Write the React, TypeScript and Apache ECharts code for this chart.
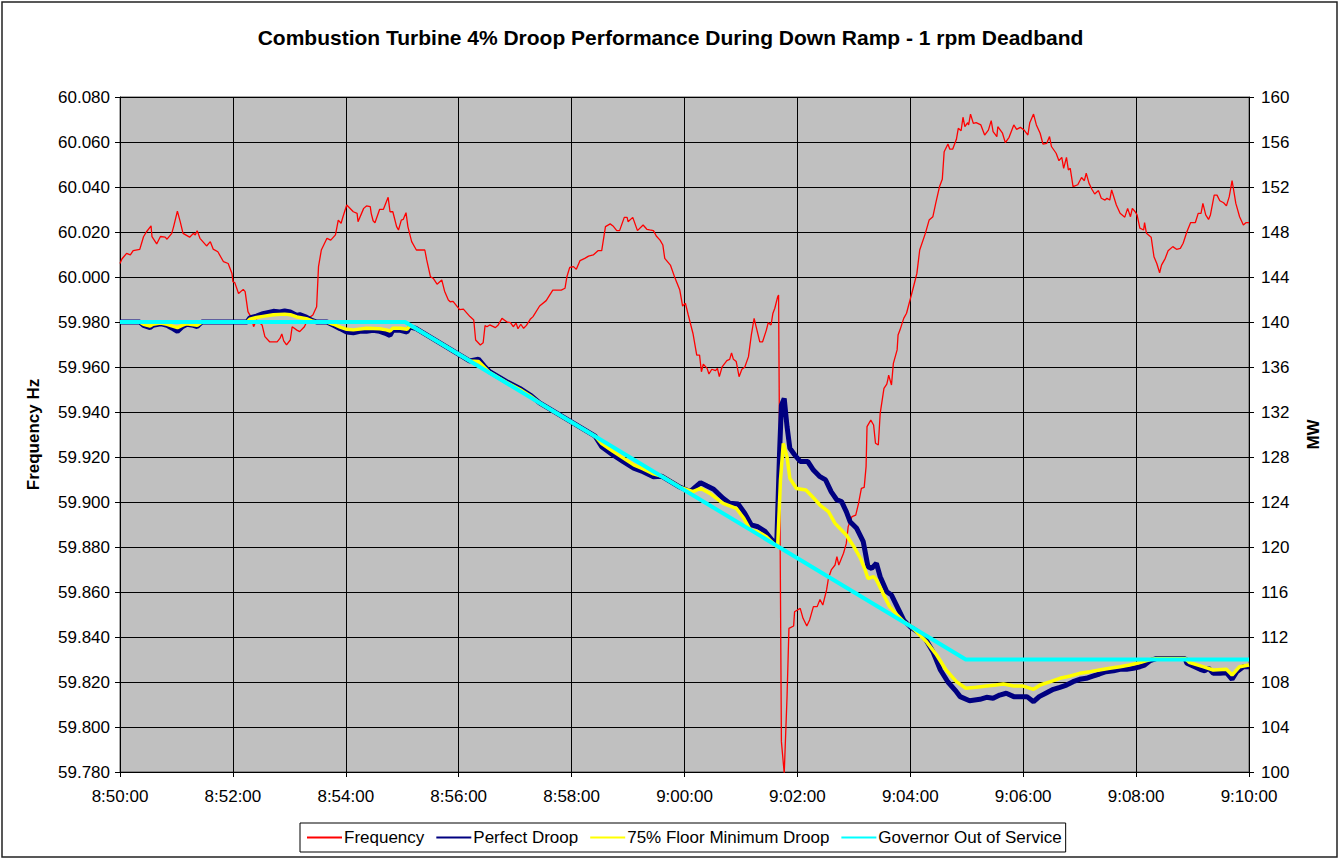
import React, { useEffect, useRef } from "react";
import * as echarts from "echarts";

// time in seconds after 8:50:00
const START_SEC = 8 * 3600 + 50 * 60;

const frequency: [number, number][] = [
  [0,60.006],[2,60.008],[7,60.0105],[11,60.0098],[14,60.0117],[21,60.0123],[25,60.0179],[28,60.020],[33,60.0227],[34,60.0179],[39,60.0147],[43,60.018],[48,60.0177],[50,60.0168],[55,60.0194],[57,60.0224],[61,60.0293],[64,60.0246],[67,60.0194],[74,60.0177],[78,60.0194],[80,60.0187],[82,60.0206],[85,60.0172],[92,60.0138],[96,60.0157],[99,60.0124],[104,60.0112],[110,60.0068],[115,60.006],[119,60.0016],[120,59.9979],[122,59.9975],[126,59.9927],[131,59.9945],[133,59.9935],[136,59.9846],[140,59.9816],[142,59.9779],[145,59.9809],[151,59.9787],[154,59.9735],[159,59.9712],[167,59.9712],[170,59.9727],[172,59.9747],[174,59.9716],[177,59.9698],[181,59.972],[183,59.9779],[188,59.9764],[191,59.9757],[196,59.9779],[200,59.9816],[205,59.9831],[209,59.9868],[211,60.0046],[214,60.012],[220,60.0172],[224,60.0164],[229,60.0187],[232,60.0253],[235,60.0239],[237,60.0268],[241,60.032],[248,60.029],[252,60.0283],[253,60.0246],[259,60.0305],[262,60.0316],[266,60.0313],[267,60.0283],[269,60.025],[271,60.0241],[276,60.0301],[280,60.0301],[285,60.0354],[287,60.029],[290,60.029],[294,60.0224],[296,60.0209],[299,60.0253],[301,60.0256],[304,60.0286],[306,60.0224],[310,60.0157],[315,60.012],[324,60.012],[326,60.0076],[330,60.0001],[333,59.9994],[337,59.9968],[342,59.9987],[345,59.9937],[349,59.9898],[351,59.989],[354,59.9892],[361,59.9855],[365,59.9857],[372,59.9824],[376,59.9809],[378,59.972],[383,59.9698],[386,59.9708],[388,59.9784],[390,59.9779],[393,59.9787],[399,59.9775],[402,59.9787],[406,59.9816],[411,59.9801],[415,59.9797],[418,59.9779],[421,59.9795],[423,59.977],[426,59.979],[429,59.9772],[432,59.9785],[436,59.9812],[439,59.9824],[446,59.9871],[453,59.9895],[460,59.9942],[469,59.9942],[473,59.995],[475,60.0001],[478,60.0043],[482,60.0046],[485,60.0034],[489,60.0073],[494,60.0083],[498,60.0093],[503,60.0098],[508,60.0117],[512,60.0117],[516,60.0224],[521,60.0236],[524,60.0227],[528,60.0206],[531,60.0206],[536,60.0265],[539,60.0265],[540,60.0246],[545,60.0265],[550,60.0206],[556,60.0231],[560,60.0212],[563,60.0209],[567,60.0206],[570,60.0182],[574,60.0164],[577,60.0142],[579,60.0083],[585,60.0053],[590,59.9994],[595,59.9942],[598,59.9871],[601,59.9883],[604,59.9831],[609,59.9749],[613,59.9653],[616,59.9653],[618,59.9579],[620,59.9613],[624,59.9594],[626,59.9569],[629,59.959],[633,59.9584],[635,59.9594],[637,59.9557],[640,59.9601],[645,59.9628],[648,59.9634],[650,59.9663],[652,59.9634],[655,59.9624],[658,59.9557],[661,59.959],[664,59.9599],[668,59.9646],[671,59.9742],[674,59.9816],[677,59.9764],[680,59.9712],[683,59.9712],[687,59.9764],[689,59.9797],[692,59.9787],[694,59.9839],[696,59.9861],[699,59.9912],[700,59.992],[703,59.7935],[706,59.7794],[709,59.8135],[711,59.8438],[716,59.8449],[717,59.8512],[723,59.8527],[726,59.8483],[730,59.8449],[733,59.8476],[737,59.8535],[741,59.8535],[744,59.8567],[747,59.8542],[751,59.8609],[753,59.8661],[756,59.8698],[760,59.872],[762,59.8757],[764,59.872],[769,59.8772],[772,59.8816],[774,59.8891],[778,59.8935],[782,59.8942],[785,59.8994],[788,59.9061],[791,59.9065],[793,59.9157],[794,59.9335],[798,59.9364],[801,59.9342],[803,59.9261],[806,59.9253],[808,59.9394],[812,59.9505],[815,59.9524],[816,59.9542],[817,59.9564],[820,59.952],[822,59.9616],[826,59.9676],[827,59.9742],[829,59.9764],[833,59.9816],[836,59.9839],[843,59.995],[847,60.0016],[850,60.012],[856,60.0194],[860,60.0253],[864,60.0268],[867,60.0327],[871,60.0401],[874,60.0434],[876,60.0557],[880,60.0591],[882,60.0568],[885,60.0568],[889,60.0612],[891,60.0661],[894,60.065],[896,60.071],[898,60.0668],[901,60.0686],[902,60.0676],[904,60.0724],[907,60.0683],[910,60.0686],[915,60.0676],[919,60.0631],[923,60.0653],[926,60.0695],[928,60.0646],[932,60.0624],[933,60.0668],[938,60.0639],[941,60.0597],[945,60.0621],[950,60.0676],[953,60.0656],[957,60.0665],[961,60.0653],[965,60.0631],[967,60.0686],[971,60.0724],[974,60.0676],[978,60.0639],[981,60.0591],[985,60.0594],[988,60.0624],[990,60.058],[995,60.055],[998,60.0517],[1001,60.0532],[1003,60.0483],[1006,60.0532],[1008,60.0476],[1010,60.0483],[1013,60.0402],[1018,60.041],[1022,60.0442],[1025,60.0428],[1027,60.0461],[1030,60.0416],[1033,60.039],[1036,60.0369],[1040,60.0384],[1043,60.035],[1047,60.0342],[1049,60.035],[1052,60.0342],[1054,60.0387],[1059,60.032],[1063,60.0283],[1068,60.0266],[1071,60.0305],[1074,60.0268],[1076,60.0305],[1079,60.029],[1081,60.0276],[1084,60.0217],[1088,60.0209],[1089,60.0242],[1091,60.0194],[1096,60.0177],[1099,60.009],[1102,60.006],[1105,60.0019],[1107,60.0053],[1111,60.0083],[1114,60.0117],[1119,60.0135],[1123,60.0123],[1127,60.0127],[1130,60.015],[1134,60.0201],[1138,60.0242],[1143,60.0242],[1146,60.0283],[1149,60.0283],[1151,60.0327],[1154,60.0276],[1157,60.0256],[1159,60.0276],[1163,60.0364],[1166,60.0364],[1169,60.0339],[1173,60.033],[1176,60.0316],[1179,60.0357],[1182,60.0428],[1183,60.0404],[1186,60.0327],[1190,60.0268],[1194,60.0231],[1197,60.0242],[1200,60.0242]
];

const perfectDroop: [number, number][] = [
  [0,140],[21,140],[25,139.7],[32,139.5],[35,139.7],[43,139.85],[50,139.7],[55,139.47],[61,139.17],[66,139.56],[71,139.8],[78,139.7],[82,139.6],[87,140],[135,140],[138,140.36],[145,140.53],[152,140.74],[163,140.95],[170,140.89],[175,140.98],[181,140.89],[188,140.59],[191,140.65],[198,140.44],[204,140.15],[209,140],[220,140],[227,139.7],[234,139.41],[241,139.11],[248,139.05],[255,139.17],[262,139.17],[269,139.26],[276,139.17],[283,138.96],[287,138.81],[290,139.26],[298,139.26],[305,139.11],[308,139.56],[314,139.45],[372,136.53],[381,136.7],[387,136.1],[393,135.58],[411,134.69],[425,134.1],[436,133.51],[446,132.81],[505,129.85],[512,128.92],[524,128.18],[535,127.58],[546,127.0],[556,126.69],[567,126.25],[576,126.28],[595,125.33],[606,124.92],[617,125.72],[624,125.42],[631,125.13],[641,124.33],[648,123.88],[657,123.82],[664,123.0],[671,121.96],[678,121.8],[686,121.36],[693,120.62],[698,120.18],[701,128.3],[703,132.6],[706,133.2],[709,130.7],[712,128.77],[717,128.2],[723,127.6],[731,127.6],[737,126.84],[744,126.25],[750,125.96],[756,124.9],[762,124.18],[767,124.03],[772,123.14],[776,122.25],[783,121.66],[790,120.47],[795,118.25],[799,118.1],[804,118.55],[808,117.36],[815,116.03],[820,115.73],[826,114.7],[833,113.5],[840,112.9],[850,112.33],[857,111.7],[864,110.7],[872,109.07],[880,108.0],[889,107.14],[893,106.7],[903,106.34],[914,106.46],[921,106.64],[928,106.55],[935,106.84],[942,107.0],[950,106.7],[957,106.7],[964,106.7],[971,106.25],[977,106.7],[985,107.05],[992,107.35],[999,107.53],[1006,107.73],[1013,108.03],[1020,108.24],[1027,108.33],[1034,108.53],[1041,108.71],[1048,108.92],[1056,109.0],[1063,109.13],[1070,109.13],[1077,109.22],[1084,109.36],[1089,109.5],[1095,109.9],[1102,110.1],[1132,110.1],[1134,109.66],[1148,109.13],[1153,109.0],[1157,109.22],[1162,108.77],[1169,108.77],[1176,108.83],[1182,108.24],[1187,108.92],[1194,109.36],[1200,109.36]
];

const floorDroop: [number, number][] = [
  [0,140],[21,140],[25,139.8],[32,139.65],[35,139.8],[43,139.9],[50,139.8],[55,139.65],[61,139.5],[66,139.7],[71,139.85],[82,139.7],[87,140],[135,140],[138,140.25],[145,140.4],[152,140.5],[163,140.65],[175,140.7],[181,140.65],[188,140.45],[198,140.3],[204,140.1],[209,140],[220,140],[227,139.8],[234,139.55],[241,139.35],[248,139.3],[262,139.45],[276,139.4],[283,139.3],[287,139.2],[290,139.45],[298,139.45],[305,139.35],[308,139.65],[314,139.45],[372,136.53],[381,136.5],[393,135.5],[411,134.62],[425,134.0],[436,133.42],[446,132.81],[505,129.85],[512,129.2],[524,128.5],[535,127.9],[546,127.3],[556,126.95],[567,126.5],[576,126.28],[595,125.33],[609,124.92],[617,125.22],[627,124.77],[641,123.88],[655,123.44],[663,122.55],[670,121.51],[678,121.36],[687,120.92],[696,120.18],[699,120.0],[702,125.96],[705,129.2],[709,128.0],[712,126.1],[719,125.2],[729,125.07],[736,124.47],[744,123.73],[753,123.14],[760,122.1],[765,121.66],[772,121.07],[780,120.03],[787,119.0],[792,117.96],[795,117.2],[801,117.36],[804,117.07],[811,115.88],[818,114.7],[826,113.96],[833,113.36],[840,113.0],[857,111.6],[868,110.4],[878,109.07],[889,108.03],[899,107.44],[910,107.53],[921,107.64],[931,107.73],[939,107.82],[950,107.64],[960,107.64],[971,107.35],[978,107.73],[989,108.03],[999,108.33],[1010,108.53],[1020,108.77],[1031,108.92],[1041,109.07],[1052,109.22],[1063,109.36],[1073,109.51],[1084,109.72],[1095,110.0],[1102,110.1],[1132,110.1],[1137,109.72],[1151,109.36],[1162,109.07],[1176,109.13],[1182,108.62],[1190,109.36],[1200,109.51]
];

const governorOut: [number, number][] = [
  [0,140],[303,140],[899,110],[1200,110]
];

const seriesNames = ["Frequency", "Perfect Droop", "75% Floor Minimum Droop", "Governor Out of Service"];
const TITLE = "Combustion Turbine 4% Droop Performance During Down Ramp - 1 rpm Deadband";

const FONT = "'Liberation Sans', Arial, sans-serif";

function fmtTime(v: number): string {
  const s = START_SEC + Math.round(v);
  const h = Math.floor(s / 3600);
  const m = Math.floor((s % 3600) / 60);
  const sec = s % 60;
  const p = (n: number) => (n < 10 ? "0" + n : "" + n);
  return `${h}:${p(m)}:${p(sec)}`;
}

export default function App() {
  const ref = useRef<HTMLDivElement>(null);
  useEffect(() => {
    if (!ref.current) return;
    const chart = echarts.init(ref.current, undefined, { renderer: "svg" });
    const labelStyle = { color: "#000", fontSize: 17, fontFamily: FONT };
    chart.setOption({
      animation: false,
      backgroundColor: "#fff",
      textStyle: { fontFamily: FONT },
      title: {
        text: TITLE,
        left: "center",
        top: 27,
        padding: 0,
        textStyle: { fontSize: 21, fontWeight: "bold", color: "#000", fontFamily: FONT },
      },
      legend: {
        data: seriesNames,
        left: 300,
        top: 823,
        orient: "horizontal",
        itemWidth: 35,
        itemHeight: 14,
        itemGap: 11,
        padding: [6, 4, 6, 6],
        borderColor: "#000",
        borderWidth: 1,
        itemStyle: { opacity: 0 },
        textStyle: { fontSize: 17, color: "#000", fontFamily: FONT, padding: [0, 0, 0, -3] },
      },
      graphic: [
        {
          type: "rect",
          shape: { x: 2, y: 2, width: 1335, height: 855 },
          style: { fill: "none", stroke: "#222", lineWidth: 1.5 },
          silent: true,
        },
      ],
      grid: {
        left: 120,
        top: 97,
        width: 1129,
        height: 675,
        show: true,
        backgroundColor: "#c0c0c0",
        borderColor: "#555",
        borderWidth: 1,
      },
      xAxis: {
        type: "value",
        min: 0,
        max: 1200,
        interval: 120,
        axisLine: { show: true, lineStyle: { color: "#000" } },
        axisTick: { show: true, length: 5, lineStyle: { color: "#000" } },
        axisLabel: { ...labelStyle, margin: 16, formatter: (v: number) => fmtTime(v) },
        splitLine: { show: true, lineStyle: { color: "#000", width: 1 } },
      },
      yAxis: [
        {
          type: "value",
          min: 59.78,
          max: 60.08,
          interval: 0.02,
          position: "left",
          name: "Frequency Hz",
          nameLocation: "middle",
          nameGap: 78,
          nameRotate: 90,
          nameTextStyle: { fontSize: 17, fontWeight: "bold", color: "#000", fontFamily: FONT },
          axisLine: { show: true, lineStyle: { color: "#000" } },
          axisTick: { show: true, length: 5, lineStyle: { color: "#000" } },
          axisLabel: { ...labelStyle, margin: 10, formatter: (v: number) => v.toFixed(3) },
          splitLine: { show: true, lineStyle: { color: "#000", width: 1 } },
        },
        {
          type: "value",
          min: 100,
          max: 160,
          interval: 4,
          position: "right",
          name: "MW",
          nameLocation: "middle",
          nameGap: 56,
          nameRotate: 90,
          nameTextStyle: { fontSize: 17, fontWeight: "bold", color: "#000", fontFamily: FONT },
          axisLine: { show: true, lineStyle: { color: "#000" } },
          axisTick: { show: true, length: 5, lineStyle: { color: "#000" } },
          axisLabel: { ...labelStyle, margin: 12 },
          splitLine: { show: false },
        },
      ],
      series: [
        {
          name: seriesNames[0],
          type: "line",
          yAxisIndex: 0,
          data: frequency,
          symbol: "none",
          lineStyle: { color: "#ff0000", width: 1.3 },
          itemStyle: { color: "#ff0000" },
        },
        {
          name: seriesNames[1],
          type: "line",
          yAxisIndex: 1,
          data: perfectDroop,
          symbol: "none",
          lineStyle: { color: "#000080", width: 5 },
          itemStyle: { color: "#000080" },
        },
        {
          name: seriesNames[2],
          type: "line",
          yAxisIndex: 1,
          data: floorDroop,
          symbol: "none",
          lineStyle: { color: "#ffff00", width: 3.5 },
          itemStyle: { color: "#ffff00" },
        },
        {
          name: seriesNames[3],
          type: "line",
          yAxisIndex: 1,
          data: governorOut,
          symbol: "none",
          lineStyle: { color: "#00ffff", width: 4 },
          itemStyle: { color: "#00ffff" },
        },
      ],
    });
    return () => chart.dispose();
  }, []);
  return (
    <div
      ref={ref}
      style={{ position: "absolute", left: 0, top: 0, width: 1341, height: 860 }}
    />
  );
}
